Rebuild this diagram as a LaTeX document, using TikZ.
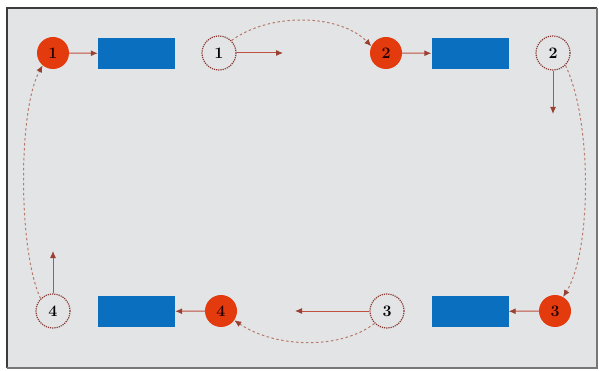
\documentclass[tikz,border=0pt]{standalone}
\usetikzlibrary{arrows.meta}
\definecolor{panelbg}{HTML}{E2E4E6}
\definecolor{frameline}{HTML}{3C3C3C}
\definecolor{discred}{HTML}{E33A0E}
\definecolor{boxblue}{HTML}{0B6FBF}
\definecolor{arrowred}{HTML}{C0503E}
\definecolor{curvecol}{HTML}{B87A6A}
\definecolor{ringcol}{HTML}{8A3A34}
\tikzset{
  numfont/.style={font=\fontsize{16}{16}\selectfont\bfseries},
  disc/.style={circle, fill=discred, minimum size=32pt, inner sep=0pt, numfont, text=black!85!red},
  ring/.style={circle, draw=ringcol, densely dotted, line width=1.2pt, minimum size=34pt, inner sep=0pt, numfont, text=black},
  bluebox/.style={fill=boxblue, minimum width=77pt, minimum height=31pt, inner sep=0pt},
  flow/.style={draw=arrowred, line width=1pt, -{Latex[length=7pt,width=6pt,color=arrowred!80!black]}},
  loopcurve/.style={draw=curvecol, dashed, dash pattern=on 2.5pt off 2.5pt, line width=1pt, -{Latex[length=7pt,width=6pt,color=arrowred!80!black]}}
}
\begin{document}
\begin{tikzpicture}[x=1pt,y=-1pt]
  \useasboundingbox (0,0) rectangle (599,371);
  \fill[white] (0,0) rectangle (599,371);
  \fill[panelbg] (7,8) rectangle (597,368);
  \draw[frameline, line width=2pt] (7,368) -- (7,8) -- (597,8);
  \draw[frameline!70, line width=1.5pt] (597,8) -- (597,368) -- (7,368);

  % top row
  \node[disc] (r1) at (53,53) {1};
  \node[bluebox] (b1) at (136.5,53.5) {};
  \node[ring] (d1) at (219,53) {1};
  \coordinate (e1) at (283,53);
  \node[disc] (r2) at (386,53) {2};
  \node[bluebox] (b2) at (470,53.5) {};
  \node[ring] (d2) at (553,53) {2};
  \coordinate (e2) at (553,114);

  % bottom row
  \node[disc] (r3) at (555,311) {3};
  \node[bluebox] (b3) at (470,311.5) {};
  \node[ring] (d3) at (387,311) {3};
  \coordinate (e3) at (295,311);
  \node[disc] (r4) at (221,311) {4};
  \node[bluebox] (b4) at (136.5,311.5) {};
  \node[ring] (d4) at (53,311) {4};
  \coordinate (e4) at (53,251);

  % straight arrows
  \draw[flow] (r1) -- (b1);
  \draw[flow] (d1) -- (e1);
  \draw[flow] (r2) -- (b2);
  \draw[flow] (d2) -- (e2);
  \draw[flow] (r3) -- (b3);
  \draw[flow] (d3) -- (e3);
  \draw[flow] (r4) -- (b4);
  \draw[flow] (d4) -- (e4);

  % dashed loops between stages
  \draw[loopcurve] (d1.45) .. controls (270,12) and (340,14) .. (r2.155);
  \draw[loopcurve] (d2.-45) .. controls (592,120) and (592,250) .. (r3.60);
  \draw[loopcurve] (d3.-135) .. controls (340,350) and (275,348) .. (r4.-35);
  \draw[loopcurve] (d4.135) .. controls (18,250) and (18,110) .. (r1.-130);
\end{tikzpicture}
\end{document}
